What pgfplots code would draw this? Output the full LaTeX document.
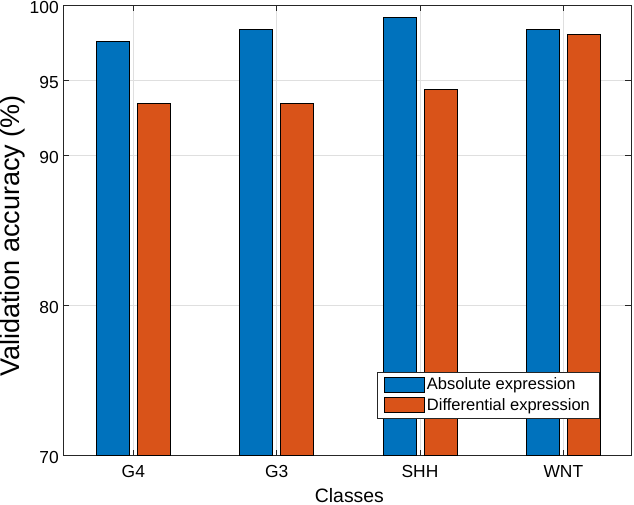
\documentclass[border=0pt]{standalone}
\usepackage{fontspec}
\setmainfont{Liberation Sans}
\usepackage{pgfplots}
\pgfplotsset{compat=1.18}
\definecolor{mblue}{RGB}{0,114,189}
\definecolor{morange}{RGB}{217,83,25}
\definecolor{axgray}{RGB}{38,38,38}
\definecolor{gridgray}{RGB}{223,223,223}
\begin{document}
\begin{tikzpicture}
\useasboundingbox (0,0) rectangle (634pt,505pt);
\begin{axis}[
  at={(63.3pt,49.7pt)}, anchor=south west,
  scale only axis, width=567.7pt, height=449.6pt,
  xmin=0.5115, xmax=4.472, ymin=70, ymax=100,
  ytick={70,80,90,95,100},
  xtick={1,2,3,4}, xticklabels={G4,G3,SHH,WNT},
  ybar=8pt, bar width=33pt,
  tick align=inside, major tick length=5.7pt,
  xmajorgrids, ymajorgrids,
  grid style={color=gridgray, line width=0.6pt},
  axis line style={axgray, line width=0.6pt},
  every tick/.style={axgray, line width=0.6pt},
  ticklabel style={font=\fontsize{17.4}{20}\selectfont, text=black},
  /pgf/number format/assume math mode=true,
  xticklabel style={yshift=-7pt},
  yticklabel style={xshift=-1pt, yshift=-2pt},
  xlabel={Classes}, ylabel={Validation accuracy (\%)},
  xlabel style={font=\fontsize{19.4}{23}\selectfont, at={(axis description cs:0.504,-0.0895)}, anchor=center},
  ylabel style={font=\fontsize{27}{32}\selectfont, at={(axis description cs:-0.0886,0.488)}, anchor=center},
  legend style={at={(axis description cs:0.944,0.0823)}, anchor=south east,
    draw=axgray, line width=0.6pt, inner xsep=7pt, inner ysep=5pt,
    row sep=5pt, font=\fontsize{16.5}{19}\selectfont,
    nodes={inner xsep=2pt, inner ysep=0pt}},
  legend cell align=left,
]
\addplot[fill=mblue, draw=black, line width=0.5pt,
  legend image code/.code={\draw[fill=mblue, draw=black, line width=0.5pt] (0pt,-7.5pt) rectangle (40pt,7.5pt);}]
  coordinates {(1,97.62) (2,98.42) (3,99.22) (4,98.42)};
\addplot[fill=morange, draw=black, line width=0.5pt,
  legend image code/.code={\draw[fill=morange, draw=black, line width=0.5pt] (0pt,-7.5pt) rectangle (40pt,7.5pt);}]
  coordinates {(1,93.48) (2,93.48) (3,94.42) (4,98.10)};
\legend{Absolute expression, Differential expression}
\end{axis}
\end{tikzpicture}
\end{document}
